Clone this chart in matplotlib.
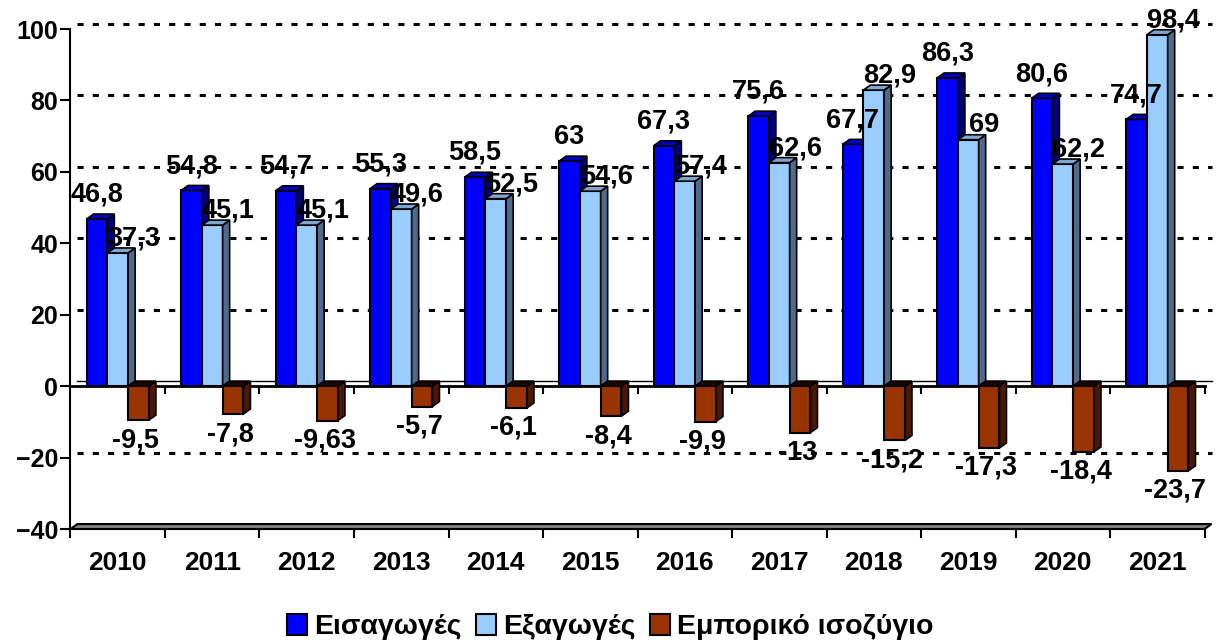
import numpy as np
import matplotlib
matplotlib.use('Agg')
import matplotlib.pyplot as plt
from matplotlib.patches import Polygon, Patch

# data
years = ['2010', '2011', '2012', '2013', '2014', '2015',
         '2016', '2017', '2018', '2019', '2020', '2021']
imports = [46.8, 54.8, 54.7, 55.3, 58.5, 63, 67.3, 75.6, 67.7, 86.3, 80.6, 74.7]
exports = [37.3, 45.1, 45.1, 49.6, 52.5, 54.6, 57.4, 62.6, 82.9, 69, 62.2, 98.4]
balance = [-9.5, -7.8, -9.63, -5.7, -6.1, -8.4, -9.9, -13, -15.2, -17.3, -18.4, -23.7]
names = ['Εισαγωγές', 'Εξαγωγές', 'Εμπορικό ισοζύγιο']

plt.rcParams['font.family'] = ['Liberation Sans', 'DejaVu Sans']
plt.rcParams['font.weight'] = 'bold'

fig = plt.figure(figsize=(12.28, 6.41), dpi=100)
fig.patch.set_facecolor('white')
ax = fig.add_axes([0.0574, 0.1747, 0.9235, 0.780])

x = np.arange(len(years))
w = 0.22
dx, dy = 0.074, 1.4  # fake 3D depth

# front, side, top colours per series
styles = [('#0000FF', '#000080', '#0000C0'),
          ('#99CCFF', '#4F6A8A', '#7FA6CF'),
          ('#993300', '#4C1900', '#1A0800')]
series = [imports, exports, balance]
offs = [-w, 0, w]

for k in range(3):
    face, side, top = styles[k]
    z = 3 + k
    bars = ax.bar(x + offs[k], series[k], width=w, color=face,
                  edgecolor='black', linewidth=1.5, zorder=z)
    for b in bars:
        x0, x1 = b.get_x(), b.get_x() + b.get_width()
        y0, y1 = b.get_y(), b.get_y() + b.get_height()
        v = y1 if y0 == 0 else y0
        ax.add_patch(Polygon([(x1, y0), (x1 + dx, y0 + dy), (x1 + dx, y1 + dy), (x1, y1)],
                             closed=True, facecolor=side, edgecolor='black',
                             linewidth=1.2, zorder=z + 0.2))
        ytop = max(v, 0)
        ax.add_patch(Polygon([(x0, ytop), (x0 + dx, ytop + dy), (x1 + dx, ytop + dy), (x1, ytop)],
                             closed=True, facecolor=top, edgecolor='black',
                             linewidth=1.2, zorder=z + 0.3))

def fmt(v):
    return ('%g' % v).replace('.', ',')

# data labels
fs = 19.5
for i in range(len(years)):
    ax.text(x[i] - w, imports[i] + 6.8, fmt(imports[i]), ha='center', va='center',
            fontsize=fs, fontweight='bold', zorder=10)
    ax.text(x[i] + 0.17, exports[i] + 4, fmt(exports[i]), ha='center', va='center',
            fontsize=fs, fontweight='bold', zorder=10, clip_on=False)
    ax.text(x[i] + w - 0.03, balance[i] - 5.6, fmt(balance[i]), ha='center', va='center',
            fontsize=fs, fontweight='bold', zorder=10)

# back wall gridlines (dashed)
for g in [-20, 20, 40, 60, 80, 100]:
    ax.plot([-0.5 + dx, 11.5 + dx], [g + dy, g + dy], color='black', lw=2.2,
            ls=(0, (2, 3)), zorder=1, clip_on=False)

# zero plane and floor
ax.plot([-0.5 + dx, 11.5 + dx], [dy, dy], color='black', lw=1, zorder=1.5, clip_on=False)
ax.plot([-0.5, 11.5], [0, 0], color='black', lw=2, zorder=2.5, clip_on=False)
ax.add_patch(Polygon([(-0.5, -40), (11.5, -40), (11.5 + dx, -40 + dy), (-0.5 + dx, -40 + dy)],
                     closed=True, facecolor='#808080', edgecolor='black', lw=1.5,
                     zorder=2, clip_on=False))

bounds = np.arange(-0.5, 12, 1.0)
ax.vlines(bounds[1:], 0, -2.3, color='black', lw=1.5, zorder=2.5, clip_on=False)
ax.vlines(bounds, -40, -42.5, color='black', lw=1.5, zorder=2.5, clip_on=False)

ax.set_xlim(-0.5, 11.5)
ax.set_ylim(-40, 100)
for s in ['top', 'right', 'bottom']:
    ax.spines[s].set_visible(False)
ax.spines['left'].set_linewidth(1.5)
ax.set_yticks(range(-40, 101, 20))
ax.tick_params(axis='y', length=7, width=1.5, labelsize=18, pad=2)
ax.set_xticks(x)
ax.set_xticklabels(years)
ax.tick_params(axis='x', length=0, labelsize=19, pad=16)
for t in ax.get_xticklabels() + ax.get_yticklabels():
    t.set_fontweight('bold')

handles = [Patch(facecolor=styles[k][0], edgecolor='black', linewidth=1.5) for k in range(3)]
fig.legend(handles, names, loc='center', bbox_to_anchor=(0.497, 0.022), ncol=3,
           frameon=False, handlelength=0.7, handleheight=0.8, handletextpad=0.25,
           columnspacing=0.5, prop={'size': 20.5, 'weight': 'bold'})

fig.savefig('out.png', dpi=100)
